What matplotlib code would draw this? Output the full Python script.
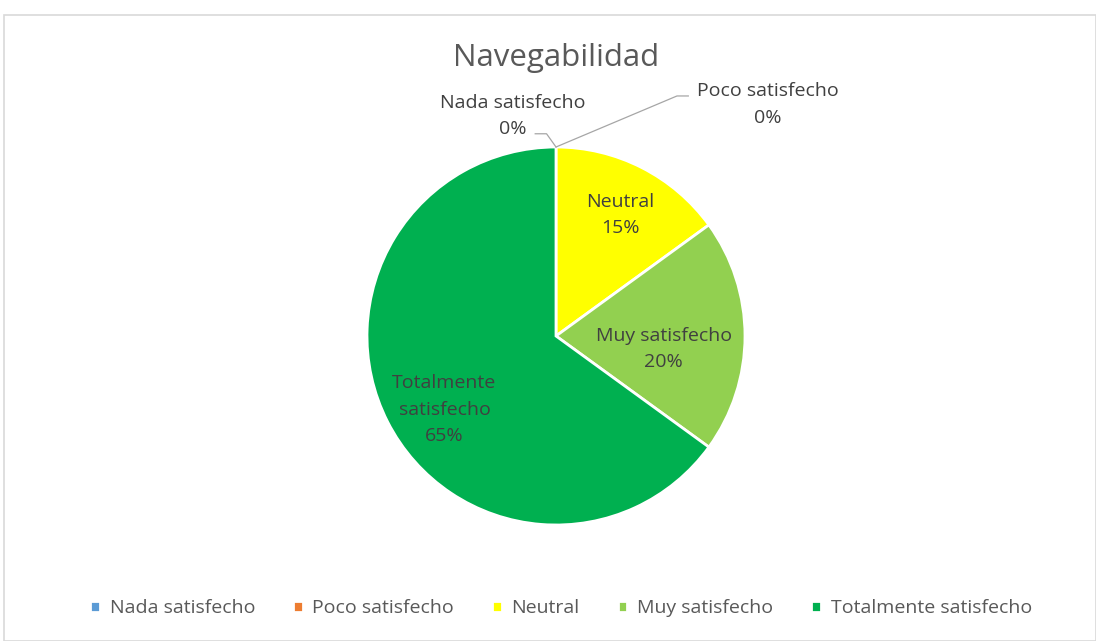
import matplotlib
matplotlib.use("Agg")
import matplotlib.pyplot as plt
from matplotlib.patches import Rectangle
import numpy as np

categories = ["Nada satisfecho", "Poco satisfecho", "Neutral", "Muy satisfecho", "Totalmente satisfecho"]
values = [0, 0, 15, 20, 65]
colors = ["#5B9BD5", "#ED7D31", "#FFFF00", "#92D050", "#00B050"]

plt.rcParams["font.family"] = ["Open Sans", "DejaVu Sans"]
TXT = "#404040"
FS = 14
LS = 1.6

W, H = 1096, 641
fig = plt.figure(figsize=(W / 100, H / 100), dpi=100)

# chart frame
fig.patches.append(Rectangle((4 / W, 0), (W - 4) / W, (H - 15) / H, transform=fig.transFigure,
                             fill=False, edgecolor="#d9d9d9", linewidth=1.2))

cx, cy, r = 556, H - 336, 189
ax = fig.add_axes([(cx - r) / W, (cy - r) / H, 2 * r / W, 2 * r / H])
wedges, _ = ax.pie(values, colors=colors, startangle=90, counterclock=False, radius=1,
                   wedgeprops=dict(edgecolor="white", linewidth=2))
ax.set_xlim(-1, 1)
ax.set_ylim(-1, 1)
ax.set_aspect("equal")
ax.axis("off")

total = sum(values)
# in-slice labels (data coords relative to pie)
inside = {2: (0.34, 0.64), 3: (0.57, -0.07), 4: (-0.59, -0.39)}
for i, (x, y) in inside.items():
    name = categories[i]
    if i == 4:
        name = "Totalmente\nsatisfecho"
    ax.text(x, y, f"{name}\n{values[i] / total:.0%}", ha="center", va="center",
            fontsize=FS, color=TXT, linespacing=LS)

# outside labels for zero slices
ax.text(-0.23, 1.165, f"{categories[0]}\n{values[0] / total:.0%}", ha="center", va="center",
        fontsize=FS, color=TXT, linespacing=LS, clip_on=False)
ax.plot([-0.11, -0.05, 0.0], [1.07, 1.07, 1.0], color="#a6a6a6", lw=0.9, clip_on=False)
ax.text(1.12, 1.225, f"{categories[1]}\n{values[1] / total:.0%}", ha="center", va="center",
        fontsize=FS, color=TXT, linespacing=LS, clip_on=False)
ax.plot([0.0, 0.64, 0.70], [1.0, 1.27, 1.27], color="#a6a6a6", lw=0.9, clip_on=False)

fig.text(cx / W, 1 - 58 / H, "Navegabilidad", ha="center", va="center", fontsize=22.5, color="#595959")

leg = fig.legend(wedges, categories, loc="center", bbox_to_anchor=(561 / W, 1 - 608 / H), ncol=5,
                 frameon=False, fontsize=FS, handlelength=0.5, handleheight=0.5,
                 handletextpad=0.5, columnspacing=1.95)
for t in leg.get_texts():
    t.set_color("#595959")

fig.savefig("out.png", dpi=100)
